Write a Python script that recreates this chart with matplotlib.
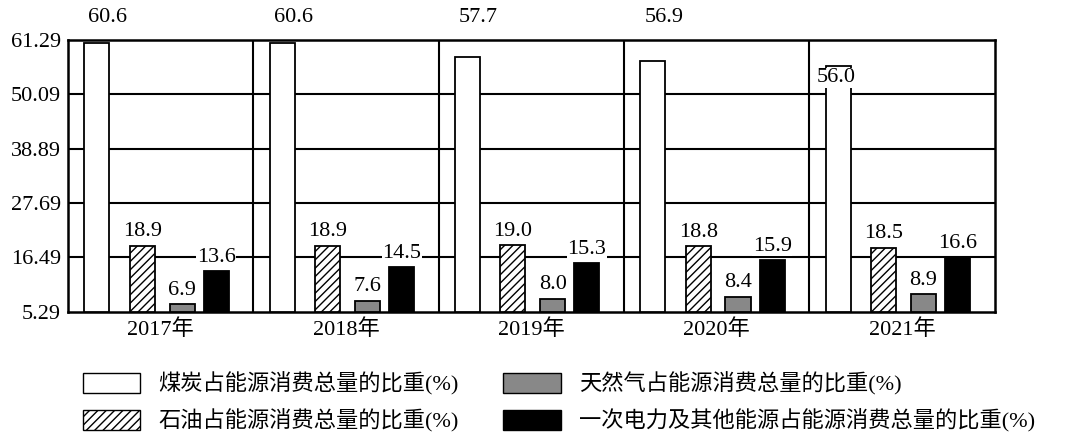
import matplotlib
matplotlib.use("Agg")
import matplotlib.pyplot as plt
from matplotlib.patches import Patch
import numpy as np

plt.rcParams['font.family'] = ['Liberation Serif', 'Noto Sans CJK SC']
plt.rcParams['hatch.linewidth'] = 1.0

years = ['2017年', '2018年', '2019年', '2020年', '2021年']
coal = [60.6, 60.6, 57.7, 56.9, 56.0]
oil = [18.9, 18.9, 19.0, 18.8, 18.5]
gas = [6.9, 7.6, 8.0, 8.4, 8.9]
elec = [13.6, 14.5, 15.3, 15.9, 16.6]
yticks = [5.29, 16.49, 27.69, 38.89, 50.09, 61.29]
names = ['煤炭占能源消费总量的比重(%)', '石油占能源消费总量的比重(%)',
         '天然气占能源消费总量的比重(%)', '一次电力及其他能源占能源消费总量的比重(%)']

fig = plt.figure(figsize=(10.8, 4.48), dpi=100)
ax = fig.add_axes([0.063, 0.304, 0.858, 0.607])
x = np.arange(len(years))
offs = [0.155, 0.40, 0.615, 0.80]
w = 0.135
styles = [dict(facecolor='white'), dict(facecolor='white', hatch='////'),
          dict(facecolor='#888888'), dict(facecolor='black')]
for k, (vals, o, st) in enumerate(zip([coal, oil, gas, elec], offs, styles)):
    ax.bar(x + o, [v - 5.29 for v in vals], bottom=5.29, width=w, edgecolor='black',
           linewidth=1.3, align='center', zorder=3, **st)
    for xi, v in zip(x, vals):
        if k == 0:
            if v > 56.5:
                ax.text(xi + o + 0.06, 64.0, f'{v:.1f}', ha='center', va='bottom',
                        fontsize=16, clip_on=False, zorder=4)
            else:
                ax.text(xi + o - 0.01, v - 2.5, f'{v:.1f}', ha='center', va='center',
                        fontsize=16, zorder=4,
                        bbox=dict(facecolor='white', edgecolor='none', pad=0.3))
        else:
            ax.text(xi + o, v + 0.9, f'{v:.1f}', ha='center', va='bottom', fontsize=16,
                    zorder=4, bbox=dict(facecolor='white', edgecolor='none', pad=0.3))
ax.set_xlim(0, 5)
ax.set_ylim(5.29, 61.29)
ax.set_yticks(yticks)
ax.set_yticklabels([f'{t:.2f}' for t in yticks], fontsize=16)
ax.set_xticks(x + 0.5)
ax.set_xticklabels(years, fontsize=16)
ax.tick_params(length=0, pad=5)
for t in yticks[1:-1]:
    ax.axhline(t, color='black', lw=1.5, zorder=1)
for b in range(1, 5):
    ax.axvline(b, color='black', lw=1.5, zorder=1)
for s in ax.spines.values():
    s.set_linewidth(1.8)

handles = [Patch(edgecolor='black', **styles[i]) for i in range(4)]
fig.legend(handles, names, ncol=2, loc='lower left', bbox_to_anchor=(0.058, -0.01),
           frameon=False, handlelength=2.6, handleheight=1.0,
           columnspacing=2.0, labelspacing=0.6,
           prop={'family': ['Liberation Serif', 'Noto Sans CJK SC'], 'size': 16})
fig.savefig('out.png', dpi=100)
